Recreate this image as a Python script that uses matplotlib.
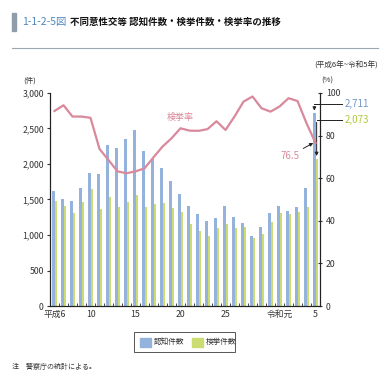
import numpy as np
import matplotlib.pyplot as plt
from matplotlib.patches import Rectangle

plt.rcParams["font.family"] = ["Noto Sans CJK JP", "DejaVu Sans"]

# 平成6年 ~ 令和5年
years = list(range(30))
tick_pos = [0, 4, 9, 14, 19, 25, 29]
tick_labels = ["平成6", "10", "15", "20", "25", "令和元", "5"]

# 認知件数
recognized = [1616, 1500, 1483, 1657, 1873, 1857, 2260, 2228, 2357, 2472,
              2176, 2076, 1948, 1766, 1582, 1402, 1289, 1193, 1240, 1409,
              1250, 1167, 989, 1109, 1307, 1405, 1332, 1388, 1655, 2711]
# 検挙件数
cleared = [1479, 1408, 1310, 1465, 1648, 1366, 1535, 1394, 1465, 1563,
           1394, 1437, 1451, 1385, 1329, 1155, 1061, 986, 1099, 1155,
           1103, 1117, 962, 1019, 1178, 1305, 1299, 1324, 1394, 2073]
# 検挙率 (%)
rate = [91.5, 94.2, 88.9, 88.9, 88.3, 73.7, 68.5, 63.2, 62.3, 63.2,
        64.6, 69.8, 74.8, 78.7, 83.4, 82.3, 82.2, 83.0, 86.7, 82.6,
        88.9, 95.9, 98.3, 92.8, 91.2, 93.6, 97.5, 96.2, 85.8, 76.5]

blue = "#93b3dc"
green = "#cadc72"
pink = "#d9899b"
txt = "#333333"

fig = plt.figure(figsize=(3.87, 3.87), dpi=100)
fig.patch.set_facecolor("white")

ax = fig.add_axes([0.1292, 0.209, 0.6977, 0.551])
ax2 = ax.twinx()

x = np.arange(len(years))
w = 0.25
ax.bar(x - w / 2, recognized, width=w, color=blue, linewidth=0)
ax.bar(x + w / 2, cleared, width=w, color=green, linewidth=0)
ax2.plot(x, rate, color=pink, lw=1.6, zorder=3)

ax.set_xlim(-0.3, 29.4)
ax.set_ylim(0, 3000)
ax2.set_ylim(0, 100)
ax.set_yticks(range(0, 3001, 500))
ax.set_yticklabels([f"{v:,}" for v in range(0, 3001, 500)])
ax2.set_yticks(range(0, 101, 20))
ax.set_xticks(tick_pos)
ax.set_xticklabels(tick_labels)
ax.set_xticks(np.arange(-0.5, 29.6, 1), minor=True)

for a in (ax, ax2):
    a.spines["top"].set_visible(False)
    for s in a.spines.values():
        s.set_color("#222222")
        s.set_linewidth(0.8)
ax.tick_params(axis="y", labelsize=6.3, length=2.5, width=0.8, pad=2, colors=txt)
ax2.tick_params(axis="y", labelsize=6.3, length=2.5, width=0.8, pad=3,
                direction="inout", colors=txt)
ax.tick_params(axis="x", which="major", labelsize=6.3, length=0, pad=3, colors=txt)
ax.tick_params(axis="x", which="minor", length=2, width=0.5, direction="in")

# unit labels
fig.text(30 / 387, 1 - 81 / 387, "(件)", fontsize=5.5, color=txt, ha="center", va="center")
fig.text(327 / 387, 1 - 81 / 387, "(%)", fontsize=5.5, color=txt, ha="center", va="center")
fig.text(378 / 387, 1 - 66 / 387, "(平成6年~令和5年)", fontsize=5.5, color=txt,
         ha="right", va="center")

# line label
ax2.text(14.0, 88.3, "検挙率", color=pink, fontsize=6.5, ha="center", va="center")

# last-year annotations
ax.annotate("", xy=(29 - w / 2, 2711), xytext=(29 - w / 2, 2845),
            arrowprops=dict(arrowstyle="-|>", color="#222222", lw=0.7,
                            mutation_scale=5), annotation_clip=False)
ax.plot([29 - w / 2, 31.9], [2845, 2845], color="#222222", lw=0.7, clip_on=False)
ax.text(32.2, 2845, "2,711", color="#6f95c8", fontsize=7, va="center", ha="left",
        clip_on=False)
ax.annotate("", xy=(29 + w / 2, 2073), xytext=(29 + w / 2, 2624),
            arrowprops=dict(arrowstyle="-|>", color="#222222", lw=0.7,
                            mutation_scale=5), annotation_clip=False)
ax.plot([29 + w / 2, 31.9], [2624, 2624], color="#222222", lw=0.7, clip_on=False)
ax.text(32.2, 2624, "2,073", color="#b3c63c", fontsize=7, va="center", ha="left",
        clip_on=False)
ax2.annotate("76.5", xy=(28.75, rate[-1]), xytext=(27.2, 70.5), color=pink,
             fontsize=7, ha="right", va="center",
             arrowprops=dict(arrowstyle="-|>", color="#222222", lw=0.7,
                             mutation_scale=5, shrinkA=1, shrinkB=0))

# legend
fig.patches.append(Rectangle((134 / 387, 1 - 352 / 387), 101 / 387, 20 / 387,
                             transform=fig.transFigure, fill=False,
                             edgecolor="#555555", lw=0.7))
fig.patches.append(Rectangle((140 / 387, 1 - 347 / 387), 11 / 387, 9 / 387,
                             transform=fig.transFigure, color=blue))
fig.text(154 / 387, 1 - 342 / 387, "認知件数", fontsize=5.5, color=txt, va="center")
fig.patches.append(Rectangle((192 / 387, 1 - 347 / 387), 11 / 387, 9 / 387,
                             transform=fig.transFigure, color=green))
fig.text(206 / 387, 1 - 342 / 387, "検挙件数", fontsize=5.5, color=txt, va="center")

fig.text(12 / 387, 1 - 367 / 387, "注　警察庁の統計による。", fontsize=5, color=txt,
         va="center")

# title
fig.patches.append(Rectangle((12 / 387, 1 - 31 / 387), 4 / 387, 18 / 387,
                             transform=fig.transFigure, color="#8f9dab"))
fig.text(22 / 387, 1 - 22 / 387, "1-1-2-5図", fontsize=7.5, color="#4f86c0",
         va="center")
fig.text(70 / 387, 1 - 22 / 387, "不同意性交等 認知件数・検挙件数・検挙率の推移",
         fontsize=6.8, color="#111111", va="center", fontweight="bold")
fig.add_artist(plt.Line2D([12 / 387, 378 / 387], [1 - 48 / 387, 1 - 48 / 387],
                          color="#9aa6b2", lw=0.8, transform=fig.transFigure))

fig.savefig("out.png", dpi=100)
